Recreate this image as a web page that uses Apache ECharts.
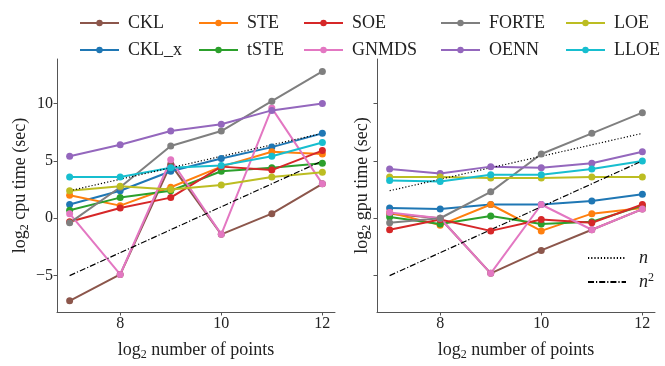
<!DOCTYPE html>
<html>
<head>
<meta charset="utf-8">
<script src="https://cdn.jsdelivr.net/npm/echarts@6/dist/echarts.min.js"></script>
<style>
    html, body {margin: 0; padding: 0; background: #fff;}
    #main {width: 665px; height: 366px;}
</style>
</head>
<body>
<div id="main"></div>
<script type="text/javascript">
// log2 number of points
var xs = [7, 8, 9, 10, 11, 12];
var methods = ['CKL', 'CKL_x', 'STE', 'tSTE', 'SOE', 'GNMDS', 'FORTE', 'OENN', 'LOE', 'LLOE'];
var colors = ['#8c564b', '#1f77b4', '#ff7f0e', '#2ca02c', '#d62728', '#e377c2', '#7f7f7f', '#9467bd', '#bcbd22', '#17becf'];

// log2 cpu time (sec)
var cpuCKL   = [-7.2, -4.9, 4.7, -1.4, 0.4, 3.0];
var cpuCKLx  = [1.2, 2.4, 4.1, 5.2, 6.2, 7.4];
var cpuSTE   = [2.0, 1.1, 2.7, 4.5, 5.8, 5.6];
var cpuTSTE  = [0.7, 1.8, 2.4, 4.1, 4.4, 4.8];
var cpuSOE   = [-0.3, 0.9, 1.8, 4.5, 4.2, 5.9];
var cpuGNMDS = [0.4, -4.9, 5.1, -1.4, 9.6, 3.0];
var cpuFORTE = [-0.4, 2.7, 6.3, 7.6, 10.2, 12.8];
var cpuOENN  = [5.4, 6.4, 7.6, 8.2, 9.4, 10.0];
var cpuLOE   = [2.4, 2.8, 2.5, 2.9, 3.6, 4.0];
var cpuLLOE  = [3.6, 3.6, 4.4, 4.6, 5.4, 6.6];

// log2 gpu time (sec)
var gpuCKL   = [0.4, 0.0, -4.8, -2.8, -1.0, 0.8];
var gpuCKLx  = [0.9, 0.8, 1.2, 1.2, 1.5, 2.1];
var gpuSTE   = [0.5, -0.6, 1.2, -1.1, 0.4, 0.9];
var gpuTSTE  = [0.1, -0.5, 0.2, -0.5, -0.3, 1.1];
var gpuSOE   = [-1.0, -0.1, -1.1, -0.1, -0.4, 1.2];
var gpuGNMDS = [0.5, 0.0, -4.8, 1.2, -1.0, 0.8];
var gpuFORTE = [-0.4, 0.0, 2.3, 5.6, 7.4, 9.2];
var gpuOENN  = [4.3, 3.9, 4.5, 4.4, 4.8, 5.8];
var gpuLOE   = [3.6, 3.6, 3.5, 3.5, 3.6, 3.6];
var gpuLLOE  = [3.3, 3.2, 3.8, 3.8, 4.3, 5.0];

// reference slopes
var refX = [7, 12];
var nLine = [2.4, 7.4];
var n2Line = [-5, 5];

var yTicks = [-5, 0, 5, 10];
var xTicks = [8, 10, 12];

var cpu = [cpuCKL, cpuCKLx, cpuSTE, cpuTSTE, cpuSOE, cpuGNMDS, cpuFORTE, cpuOENN, cpuLOE, cpuLLOE];
var gpu = [gpuCKL, gpuCKLx, gpuSTE, gpuTSTE, gpuSOE, gpuGNMDS, gpuFORTE, gpuOENN, gpuLOE, gpuLLOE];

var FONT = 'Liberation Serif';

function pairs(xv, yv) {
    var out = [];
    for (var i = 0; i < xv.length; i++) out.push([xv[i], yv[i]]);
    return out;
}

var nameRich = {
    a: {fontFamily: FONT, fontSize: 18, color: '#222', lineHeight: 22},
    s: {fontFamily: FONT, fontSize: 12, color: '#222', verticalAlign: 'bottom', lineHeight: 14}
};

function xAxisOf(idx) {
    return {
        type: 'value', gridIndex: idx, min: 6.75, max: 12.25,
        name: '{a|log}{s|2}{a| number of points}',
        nameLocation: 'middle', nameGap: 27,
        nameTextStyle: {fontFamily: FONT, color: '#222', rich: nameRich},
        splitLine: {show: false},
        axisLine: {onZero: false, lineStyle: {color: '#555', width: 1}},
        axisTick: {show: true, customValues: xTicks, length: 3.5, lineStyle: {color: '#555'}},
        axisLabel: {customValues: xTicks, fontFamily: FONT, fontSize: 16, color: '#222', margin: 4}
    };
}

function yAxisOf(idx, label, showLabels) {
    return {
        type: 'value', gridIndex: idx, min: -8.17, max: 13.88,
        name: '{a|log}{s|2}{a| ' + label + ' time (sec)}',
        nameLocation: 'middle', nameGap: showLabels ? 26 : 4,
        nameTextStyle: {fontFamily: FONT, color: '#222', rich: nameRich},
        splitLine: {show: false},
        axisLine: {show: true, onZero: false, lineStyle: {color: '#555', width: 1}},
        axisTick: {show: true, customValues: yTicks, length: 3.5, lineStyle: {color: '#555'}},
        axisLabel: {show: showLabels, customValues: yTicks, fontFamily: FONT, fontSize: 16, color: '#222', margin: 4,
            formatter: function (v) { return v < 0 ? '\u2212' + Math.abs(v) : '' + v; }}
    };
}

var series = [];
[cpu, gpu].forEach(function (set, g) {
    set.forEach(function (vals, i) {
        series.push({
            name: methods[i], type: 'line', xAxisIndex: g, yAxisIndex: g,
            data: pairs(xs, vals),
            symbol: 'circle', symbolSize: 7,
            color: colors[i],
            lineStyle: {width: 2},
            animation: false
        });
    });
    series.push({
        name: 'n', type: 'line', xAxisIndex: g, yAxisIndex: g,
        data: pairs(refX, nLine), symbol: 'none', color: '#000',
        lineStyle: {width: 1.2, type: [1.2, 2], color: '#000'}, animation: false, z: 3
    });
    series.push({
        name: 'n2', type: 'line', xAxisIndex: g, yAxisIndex: g,
        data: pairs(refX, n2Line), symbol: 'none', color: '#000',
        lineStyle: {width: 1.2, type: [6, 2, 1.2, 2], color: '#000'}, animation: false, z: 3
    });
});

var colLeft = [74, 193, 298, 435, 560];
var legends = colLeft.map(function (lx, c) {
    return {
        orient: 'vertical', left: lx, top: 8,
        data: [methods[c * 2], methods[c * 2 + 1]],
        itemWidth: 39, itemHeight: 8, itemGap: 7,
        textStyle: {fontFamily: FONT, fontSize: 18, color: '#222', lineHeight: 20, padding: [0, 0, 0, 4]}
    };
});
legends.push({
    orient: 'vertical', left: 582, top: 244,
    data: ['n', 'n2'],
    itemWidth: 38, itemHeight: 8, itemGap: 5,
    itemStyle: {color: 'rgba(0,0,0,0)', borderWidth: 0},
    formatter: function (name) { return name == 'n' ? '{i|n}' : '{i|n}{p|2}'; },
    textStyle: {
        fontFamily: FONT, color: '#222', padding: [0, 0, 0, 8],
        rich: {
            i: {fontFamily: FONT, fontSize: 18, fontStyle: 'italic', color: '#222', lineHeight: 20},
            p: {fontFamily: FONT, fontSize: 12, color: '#222', verticalAlign: 'top', lineHeight: 20}
        }
    }
});

var chart = echarts.init(document.getElementById('main'), null, {renderer: 'canvas'});
chart.setOption({
    backgroundColor: '#fff',
    animation: false,
    grid: [
        {left: 57, top: 59, width: 278, height: 255},
        {left: 377, top: 59, width: 278, height: 255}
    ],
    legend: legends,
    xAxis: [xAxisOf(0), xAxisOf(1)],
    yAxis: [yAxisOf(0, 'cpu', true), yAxisOf(1, 'gpu', false)],
    series: series
});
</script>
</body>
</html>
